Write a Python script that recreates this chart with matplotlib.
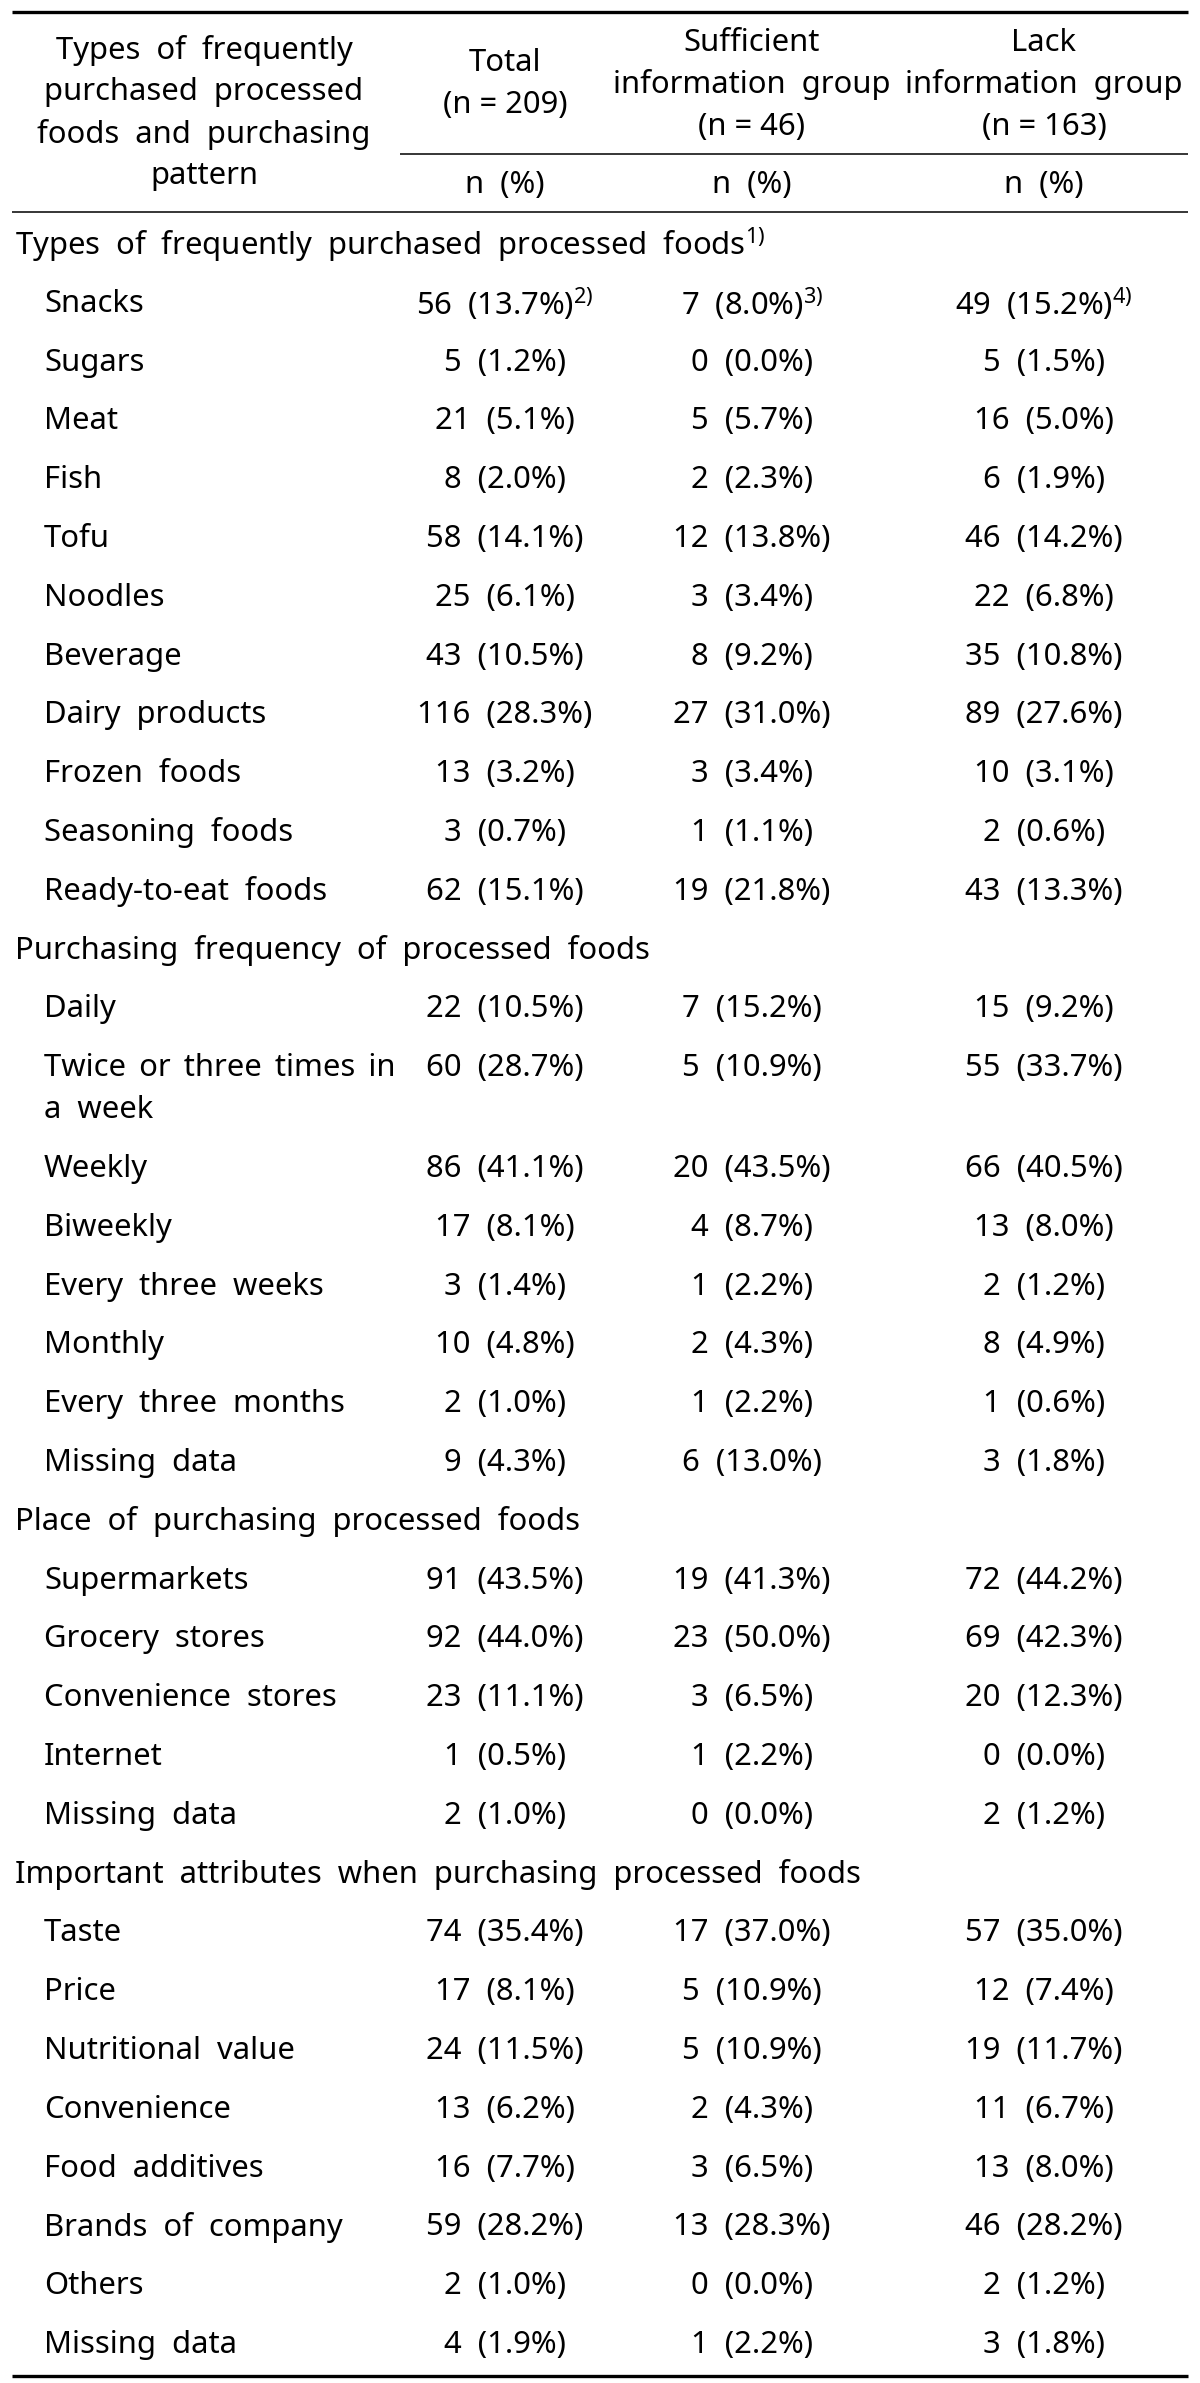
import matplotlib
matplotlib.use("Agg")
import matplotlib.pyplot as plt

plt.rcParams['font.family'] = ['Noto Sans', 'DejaVu Sans']
plt.rcParams['mathtext.default'] = 'regular'

# ---------------- data ----------------
col_headers = ["Total\n(n = 209)", "Sufficient\ninformation  group\n(n = 46)",
               "Lack\ninformation  group\n(n = 163)"]
row_header = ["Types  of  frequently", "purchased  processed",
              "foods  and  purchasing", "pattern"]
unit_label = "n  (%)"

section_titles = ["Types  of  frequently  purchased  processed  foods",
                  "Purchasing  frequency  of  processed  foods",
                  "Place  of  purchasing  processed  foods",
                  "Important  attributes  when  purchasing  processed  foods"]
section_marks = ["1)", "", "", ""]

food_items = ["Snacks", "Sugars", "Meat", "Fish", "Tofu", "Noodles", "Beverage",
              "Dairy  products", "Frozen  foods", "Seasoning  foods", "Ready-to-eat  foods"]
food_total_n = [56, 5, 21, 8, 58, 25, 43, 116, 13, 3, 62]
food_total_pct = [13.7, 1.2, 5.1, 2.0, 14.1, 6.1, 10.5, 28.3, 3.2, 0.7, 15.1]
food_suff_n = [7, 0, 5, 2, 12, 3, 8, 27, 3, 1, 19]
food_suff_pct = [8.0, 0.0, 5.7, 2.3, 13.8, 3.4, 9.2, 31.0, 3.4, 1.1, 21.8]
food_lack_n = [49, 5, 16, 6, 46, 22, 35, 89, 10, 2, 43]
food_lack_pct = [15.2, 1.5, 5.0, 1.9, 14.2, 6.8, 10.8, 27.6, 3.1, 0.6, 13.3]
snack_marks = ["2)", "3)", "4)"]

freq_items = ["Daily", "Twice \u2006or \u2006three \u2006times \u2006in\na  week", "Weekly", "Biweekly",
              "Every  three  weeks", "Monthly", "Every  three  months", "Missing  data"]
freq_total_n = [22, 60, 86, 17, 3, 10, 2, 9]
freq_total_pct = [10.5, 28.7, 41.1, 8.1, 1.4, 4.8, 1.0, 4.3]
freq_suff_n = [7, 5, 20, 4, 1, 2, 1, 6]
freq_suff_pct = [15.2, 10.9, 43.5, 8.7, 2.2, 4.3, 2.2, 13.0]
freq_lack_n = [15, 55, 66, 13, 2, 8, 1, 3]
freq_lack_pct = [9.2, 33.7, 40.5, 8.0, 1.2, 4.9, 0.6, 1.8]

place_items = ["Supermarkets", "Grocery  stores", "Convenience  stores", "Internet", "Missing  data"]
place_total_n = [91, 92, 23, 1, 2]
place_total_pct = [43.5, 44.0, 11.1, 0.5, 1.0]
place_suff_n = [19, 23, 3, 1, 0]
place_suff_pct = [41.3, 50.0, 6.5, 2.2, 0.0]
place_lack_n = [72, 69, 20, 0, 2]
place_lack_pct = [44.2, 42.3, 12.3, 0.0, 1.2]

attr_items = ["Taste", "Price", "Nutritional  value", "Convenience", "Food  additives",
              "Brands  of  company", "Others", "Missing  data"]
attr_total_n = [74, 17, 24, 13, 16, 59, 2, 4]
attr_total_pct = [35.4, 8.1, 11.5, 6.2, 7.7, 28.2, 1.0, 1.9]
attr_suff_n = [17, 5, 5, 2, 3, 13, 0, 1]
attr_suff_pct = [37.0, 10.9, 10.9, 4.3, 6.5, 28.3, 0.0, 2.2]
attr_lack_n = [57, 12, 19, 11, 13, 46, 2, 3]
attr_lack_pct = [35.0, 7.4, 11.7, 6.7, 8.0, 28.2, 1.2, 1.8]

sections = [
    (food_items, [(food_total_n, food_total_pct), (food_suff_n, food_suff_pct), (food_lack_n, food_lack_pct)]),
    (freq_items, [(freq_total_n, freq_total_pct), (freq_suff_n, freq_suff_pct), (freq_lack_n, freq_lack_pct)]),
    (place_items, [(place_total_n, place_total_pct), (place_suff_n, place_suff_pct), (place_lack_n, place_lack_pct)]),
    (attr_items, [(attr_total_n, attr_total_pct), (attr_suff_n, attr_suff_pct), (attr_lack_n, attr_lack_pct)]),
]

# ---------------- layout ----------------
W, H = 1200, 2383
fig = plt.figure(figsize=(W / 100, H / 100), dpi=100)
ax = fig.add_axes([0, 0, 1, 1])
ax.set_xlim(0, W)
ax.set_ylim(H, 0)
ax.axis('off')

FS = 22.3
col_x = [505, 752, 1044]
label_x = 204
sec_x = 15
item_x = 44
line_gap = 42
row_step = 58.8

# header
for i, line in enumerate(row_header):
    ax.text(label_x, 50 + i * line_gap, line, ha='center', va='center', fontsize=FS)
hdr_top = [63, 43, 43]
for cx, hdr, top in zip(col_x, col_headers, hdr_top):
    for i, line in enumerate(hdr.split("\n")):
        ax.text(cx, top + i * line_gap, line, ha='center', va='center', fontsize=FS)
    ax.text(cx, 185, unit_label, ha='center', va='center', fontsize=FS)

ax.plot([12, 1188], [12, 12], color='black', lw=2.4, solid_capstyle='butt')
ax.plot([400, 1188], [154, 154], color='black', lw=1.1, solid_capstyle='butt')
ax.plot([12, 1188], [212, 212], color='black', lw=1.1, solid_capstyle='butt')

# body
y = 245
for s, (title, mark, (items, groups)) in enumerate(zip(section_titles, section_marks, sections)):
    txt = title + (f"$^{{{mark}}}$" if mark else "")
    ax.text(sec_x, y, txt, ha='left', va='center', fontsize=FS)
    y += row_step
    for r, item in enumerate(items):
        lines = item.split("\n")
        for k, ln in enumerate(lines):
            ax.text(item_x, y + k * line_gap, ln, ha='left', va='center', fontsize=FS)
        for g, (cx, (ns, ps)) in enumerate(zip(col_x, groups)):
            val = f"{ns[r]}  ({ps[r]:.1f}%)"
            if s == 0 and r == 0:
                val += f"$^{{{snack_marks[g]}}}$"
            ax.text(cx, y, val, ha='center', va='center', fontsize=FS)
        y += row_step + (len(lines) - 1) * line_gap

ax.plot([12, 1188], [2376, 2376], color='black', lw=2.4, solid_capstyle='butt')

fig.savefig("out.png", dpi=100, facecolor='white')
